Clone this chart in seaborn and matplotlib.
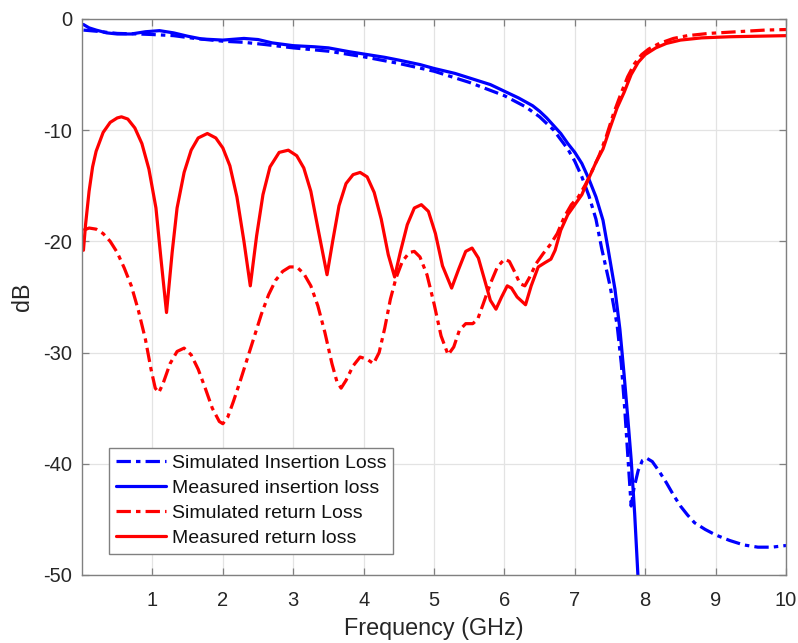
import matplotlib
matplotlib.use("Agg")
import matplotlib.pyplot as plt
import seaborn as sns
import numpy as np

# ---------------- data ----------------
rl_meas_x = [0.02, 0.05, 0.1, 0.15, 0.2, 0.3, 0.4, 0.5, 0.56, 0.65, 0.75, 0.85, 0.95, 1.05, 1.12, 1.2,
             1.28, 1.35, 1.45, 1.55, 1.65, 1.78, 1.9, 2.0, 2.1, 2.2, 2.3, 2.39, 2.48, 2.57, 2.67, 2.8,
             2.93, 3.05, 3.15, 3.25, 3.35, 3.48, 3.56, 3.65, 3.75, 3.85, 3.95, 4.05, 4.15, 4.25, 4.35,
             4.44, 4.52, 4.62, 4.72, 4.82, 4.92, 5.02, 5.12, 5.25, 5.35, 5.45, 5.54, 5.63, 5.72, 5.8,
             5.88, 5.96, 6.04, 6.1, 6.18, 6.3, 6.38, 6.48, 6.58, 6.66, 6.72, 6.8, 6.9, 7.0, 7.1, 7.2,
             7.3, 7.4, 7.5, 7.6, 7.7, 7.8, 7.9, 8.0, 8.15, 8.3, 8.5, 8.8, 9.2, 9.6, 10.0]
rl_meas_y = [-20.8, -18.5, -15.5, -13.3, -11.9, -10.2, -9.3, -8.9, -8.8, -9.0, -9.8, -11.2, -13.5, -17.0, -21.5, -26.4,
             -21.0, -17.0, -13.8, -11.8, -10.7, -10.3, -10.7, -11.6, -13.2, -16.0, -20.0, -24.0, -19.5, -15.8, -13.3, -12.0,
             -11.8, -12.3, -13.4, -15.5, -18.8, -23.0, -20.0, -16.8, -14.8, -14.0, -13.8, -14.2, -15.6, -18.0, -21.2,
             -23.2, -21.0, -18.5, -17.0, -16.7, -17.3, -19.3, -22.2, -24.2, -22.5, -20.9, -20.6, -21.5, -23.5, -25.3,
             -26.1, -25.0, -24.0, -24.2, -25.0, -25.7, -24.0, -22.3, -21.9, -21.6, -20.8, -19.0, -17.6, -16.7, -15.8, -14.3,
             -12.9, -11.7, -9.8, -8.0, -6.6, -5.0, -3.9, -3.2, -2.6, -2.2, -1.9, -1.7, -1.6, -1.55, -1.5]

rl_sim_x = [0.02, 0.1, 0.2, 0.3, 0.4, 0.5, 0.6, 0.7, 0.8, 0.9, 0.98, 1.04, 1.09, 1.15, 1.25, 1.35, 1.45,
            1.55, 1.65, 1.75, 1.85, 1.95, 2.0, 2.07, 2.15, 2.25, 2.35, 2.45, 2.55, 2.65, 2.75, 2.85, 2.95,
            3.05, 3.15, 3.25, 3.35, 3.45, 3.55, 3.62, 3.68, 3.75, 3.85, 3.95, 4.05, 4.14, 4.22, 4.3, 4.38,
            4.46, 4.55, 4.65, 4.72, 4.8, 4.9, 5.0, 5.1, 5.2, 5.28, 5.36, 5.45, 5.55, 5.62, 5.7, 5.8, 5.9,
            6.0, 6.07, 6.15, 6.22, 6.29, 6.36, 6.45, 6.55, 6.65, 6.75, 6.85, 6.95, 7.05, 7.15, 7.25, 7.35,
            7.45, 7.55, 7.65, 7.75, 7.85, 7.95, 8.05, 8.2, 8.4, 8.6, 8.9, 9.3, 9.7, 10.0]
rl_sim_y = [-19.0, -18.8, -18.9, -19.3, -20.0, -21.0, -22.4, -24.0, -26.2, -28.8, -31.5, -33.2, -33.6, -32.8, -31.0, -29.9, -29.6,
            -30.2, -31.5, -33.2, -35.0, -36.2, -36.4, -35.8, -34.4, -32.5, -30.5, -28.5, -26.5, -24.8, -23.5, -22.7, -22.3,
            -22.3, -22.9, -24.0, -25.8, -28.2, -31.0, -32.6, -33.2, -32.5, -31.2, -30.4, -30.6, -31.0, -30.0, -27.8, -25.2,
            -23.3, -21.8, -21.0, -20.9, -21.4, -23.0, -25.6, -28.5, -30.2, -29.5, -28.0, -27.4, -27.4, -27.0, -25.6, -23.8, -22.3,
            -21.6, -21.8, -22.8, -23.8, -24.0, -23.2, -22.0, -21.1, -20.3, -19.3, -17.8, -16.7, -16.0, -14.9, -13.6, -12.2,
            -10.5, -8.5, -6.8, -5.2, -4.0, -3.2, -2.7, -2.2, -1.75, -1.5, -1.3, -1.15, -1.0, -0.95]

il_meas_x = [0.02, 0.1, 0.2, 0.35, 0.5, 0.7, 0.9, 1.1, 1.3, 1.5, 1.7, 2.0, 2.3, 2.5, 2.7, 3.0, 3.3, 3.5,
             3.8, 4.0, 4.3, 4.5, 4.8, 5.0, 5.3, 5.5, 5.8, 6.0, 6.2, 6.4, 6.5, 6.6, 6.7, 6.8, 6.9, 7.0,
             7.1, 7.2, 7.3, 7.4, 7.47, 7.57, 7.64, 7.7, 7.75, 7.8, 7.85, 7.9, 7.95]
il_meas_y = [-0.5, -0.8, -1.0, -1.25, -1.35, -1.35, -1.15, -1.05, -1.25, -1.55, -1.8, -1.9, -1.75, -1.85, -2.15, -2.4, -2.5, -2.6,
             -2.95, -3.15, -3.45, -3.7, -4.1, -4.45, -4.9, -5.3, -5.9, -6.5, -7.1, -7.8, -8.3, -8.9, -9.6, -10.3, -11.2, -12.0,
             -13.0, -14.4, -16.0, -18.1, -20.6, -24.3, -27.9, -32.0, -35.7, -39.6, -44.5, -50.5, -56.0]

il_sim_x = [0.02, 0.2, 0.5, 0.8, 1.0, 1.3, 1.6, 2.0, 2.3, 2.6, 3.0, 3.5, 4.0, 4.5, 5.0, 5.5, 6.0, 6.3,
            6.5, 6.7, 6.9, 7.0, 7.1, 7.2, 7.3, 7.38, 7.5, 7.6, 7.66, 7.71, 7.76, 7.8, 7.84, 7.9, 7.96, 8.02,
            8.1, 8.2, 8.3, 8.4, 8.5, 8.6, 8.7, 8.85, 9.0, 9.2, 9.4, 9.6, 9.8, 10.0]
il_sim_y = [-1.0, -1.1, -1.3, -1.35, -1.4, -1.5, -1.75, -2.0, -2.1, -2.3, -2.6, -2.9, -3.4, -4.0, -4.7, -5.7, -6.9, -7.9,
            -8.8, -10.0, -11.7, -12.8, -14.2, -15.9, -18.0, -20.6, -24.0, -27.5, -31.0, -35.2, -40.0, -43.8, -42.2, -40.6, -39.7, -39.5,
            -39.8, -40.7, -41.7, -42.8, -43.8, -44.6, -45.3, -45.9, -46.4, -46.9, -47.3, -47.5, -47.5, -47.35]

labels = ["Simulated Insertion Loss", "Measured insertion loss",
          "Simulated return Loss", "Measured return loss"]
x_ticks = [1, 2, 3, 4, 5, 6, 7, 8, 9, 10]
y_ticks = [0, -10, -20, -30, -40, -50]

# ---------------- style ----------------
sns.set_theme(style="white")
plt.rcParams["font.family"] = ["Liberation Sans", "DejaVu Sans"]
plt.rcParams["axes.unicode_minus"] = False
text_col = "#262626"
spine_col = "#808080"

fig = plt.figure(figsize=(7.98, 6.43), dpi=100)
ax = fig.add_axes([0.1028, 0.1058, 0.8822, 0.8647])

dashdot = (0, (4.5, 1.6, 1.4, 1.6))
lw = 2.3

sns.lineplot(x=il_sim_x, y=il_sim_y, ax=ax, color="#0000ff", lw=lw, linestyle=dashdot,
             label=labels[0], sort=False, estimator=None)
sns.lineplot(x=il_meas_x, y=il_meas_y, ax=ax, color="#0000ff", lw=lw, linestyle="-",
             label=labels[1], sort=False, estimator=None)
sns.lineplot(x=rl_sim_x, y=rl_sim_y, ax=ax, color="#ff0000", lw=lw, linestyle=dashdot,
             label=labels[2], sort=False, estimator=None)
sns.lineplot(x=rl_meas_x, y=rl_meas_y, ax=ax, color="#ff0000", lw=lw, linestyle="-",
             label=labels[3], sort=False, estimator=None)

ax.set_xlim(0, 10)
ax.set_ylim(-50, 0)
ax.set_xticks(x_ticks)
ax.set_yticks(y_ticks)
ax.grid(True, color="#e3e3e3", lw=0.9)
ax.set_axisbelow(True)

for s in ax.spines.values():
    s.set_color(spine_col)
    s.set_linewidth(1.0)
    s.set_visible(True)

ax.tick_params(axis="both", direction="in", length=5, width=0.9, color=spine_col,
               labelsize=14.5, labelcolor=text_col, top=True, right=True,
               bottom=True, left=True)
ax.tick_params(axis="x", pad=11.5)
ax.tick_params(axis="y", pad=7)

ax.set_xlabel("Frequency (GHz)", fontsize=16.8, color=text_col, labelpad=5)
ax.set_ylabel("dB", fontsize=16.8, color=text_col, labelpad=7)

leg = ax.legend(loc="lower left", bbox_to_anchor=(0.038, 0.038), borderaxespad=0,
                fontsize=14, frameon=True, fancybox=False, framealpha=1,
                edgecolor=spine_col, handlelength=2.6, handletextpad=0.3,
                labelspacing=0.38, borderpad=0.35)
leg.get_frame().set_linewidth(1.0)
for t in leg.get_texts():
    t.set_color("#111111")

fig.savefig("out.png", dpi=100)
